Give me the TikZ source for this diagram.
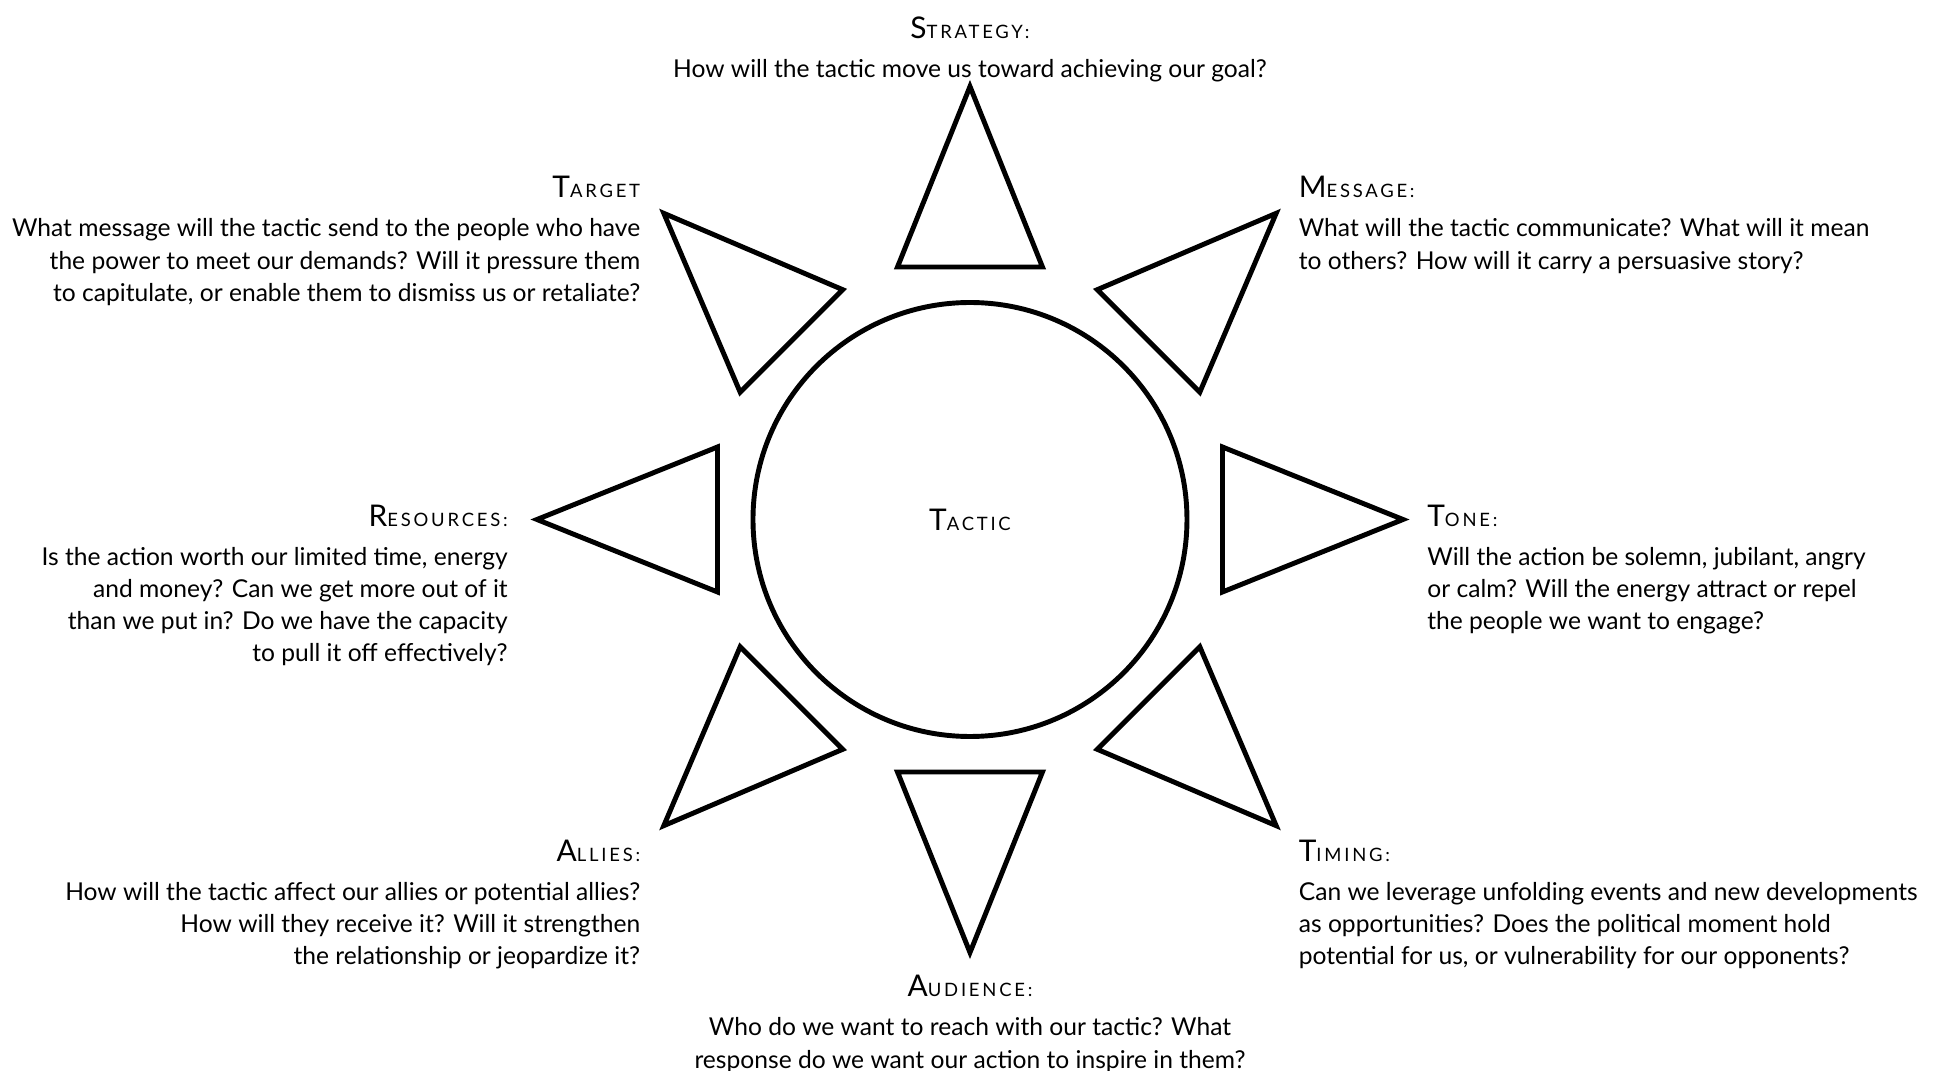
\documentclass[tikz,border=0pt]{standalone}
\usepackage{fontspec}
\setmainfont{Lato}
\usetikzlibrary{positioning}
\tikzstyle{ray} = [draw, line width=2.8pt, miter limit=10]
\tikzstyle{hub} = [draw, circle, line width=2.8pt, minimum size=8.68cm, inner sep=0pt]
\tikzstyle{stdText} = [inner sep=0pt, font=\fontsize{14}{18.3}\selectfont]
\tikzstyle{lblR} = [stdText, align=right, anchor=north east]
\tikzstyle{lblL} = [stdText, align=left, anchor=north west]
\tikzstyle{lblC} = [stdText, align=center, anchor=north]
\newcommand{\headword}[2]{{\fontsize{17}{17}\selectfont #1}{\fontsize{10.5}{10.5}\selectfont\addfontfeature{LetterSpace=15}#2}}

\begin{document}
\begin{tikzpicture}
    \useasboundingbox (-19.40,-11.03) rectangle (19.38,10.39);

    % the hub and the eight rays
    \node (tactic) [hub] at (0,0) {\headword{T}{ACTIC}};
    \foreach \a in {0,45,...,315}{
        \draw [ray, rotate=\a] (5.05,-1.45) -- (8.66,0) -- (5.05,1.45) -- cycle;
    }

    % the questions
    \node (strategy) [lblC] at (0,10.06) {\headword{S}{TRATEGY:}\\[4pt]
        How will the tactic move us toward achieving our goal?};
    \node (target) [lblR] at (-6.59,6.87) {\headword{T}{ARGET}\\[4pt]
        What message will the tactic send to the people who have\\
        the power to meet our demands?  Will it pressure them\\
        to capitulate, or enable them to dismiss us or retaliate?};
    \node (message) [lblL] at (6.57,6.87) {\headword{M}{ESSAGE:}\\[4pt]
        What will the tactic communicate?  What will it mean\\
        to others?  How will it carry a persuasive story?};
    \node (resources) [lblR] at (-9.24,0.30) {\headword{R}{ESOURCES:}\\[4pt]
        Is the action worth our limited time, energy\\
        and money?  Can we get more out of it\\
        than we put in?  Do we have the capacity\\
        to pull it off effectively?};
    \node (tone) [lblL] at (9.14,0.30) {\headword{T}{ONE:}\\[4pt]
        Will the action be solemn, jubilant, angry\\
        or calm?  Will the energy attract or repel\\
        the people we want to engage?};
    \node (allies) [lblR] at (-6.59,-6.40) {\headword{A}{LLIES:}\\[4pt]
        How will the tactic affect our allies or potential allies?\\
        How will they receive it?  Will it strengthen\\
        the relationship or jeopardize it?};
    \node (timing) [lblL] at (6.57,-6.40) {\headword{T}{IMING:}\\[4pt]
        Can we leverage unfolding events and new developments\\
        as opportunities?  Does the political moment hold\\
        potential for us, or vulnerability for our opponents?};
    \node (audience) [lblC] at (0,-9.11) {\headword{A}{UDIENCE:}\\[4pt]
        Who do we want to reach with our tactic?  What\\
        response do we want our action to inspire in them?};
\end{tikzpicture}
\end{document}
